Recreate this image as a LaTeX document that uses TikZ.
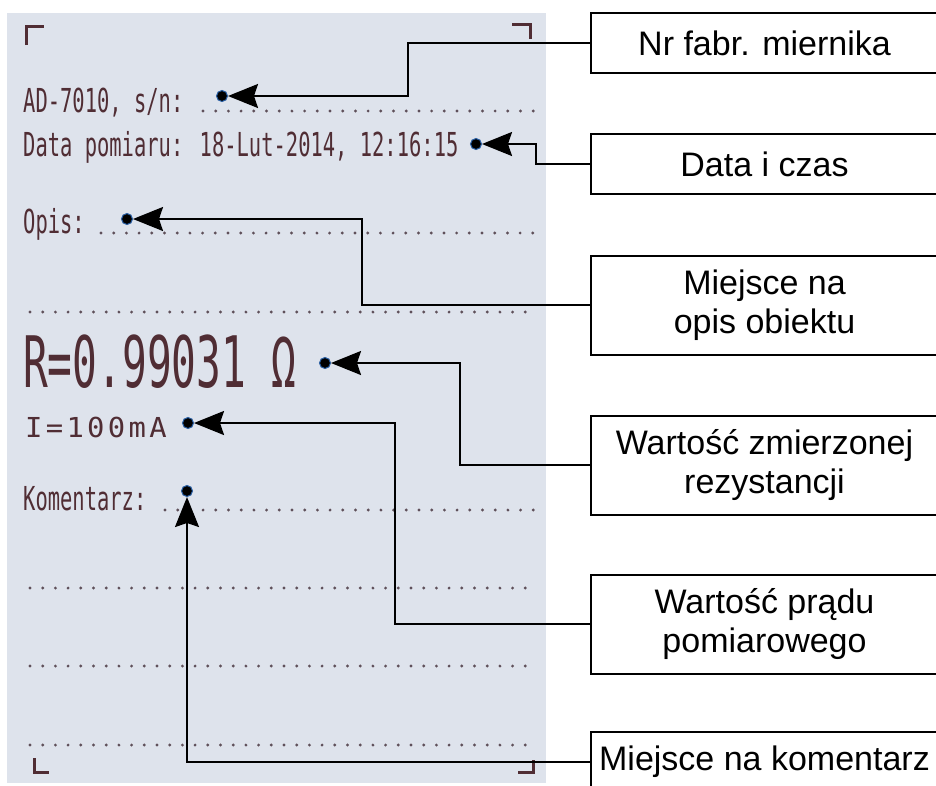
\documentclass[tikz,border=0pt]{standalone}
\usepackage{fontspec}
\setmainfont{Liberation Sans}
\newfontfamily\printfont[FakeStretch=0.62]{DejaVu Sans Mono}
\newfontfamily\bigprintfont[FakeStretch=0.58]{DejaVu Sans Mono}
\newfontfamily\wideprintfont[FakeStretch=1.05, LetterSpace=12]{DejaVu Sans Mono}
\usepackage{xcolor}
\usetikzlibrary{arrows.meta, positioning}
\definecolor{paper}{RGB}{222,227,236}
\definecolor{ink}{RGB}{80,45,52}
\definecolor{dotink}{RGB}{95,80,90}
\definecolor{ringblue}{RGB}{40,95,165}

\begin{document}
\begin{tikzpicture}[x=1pt, y=-1pt,
    box/.style={draw, line width=2pt, minimum width=347pt, minimum height=60pt, anchor=west, align=center, inner sep=3pt, font=\fontsize{34}{39}\selectfont},
    tallbox/.style={box, minimum height=99pt},
    prn/.style={anchor=base west, inner sep=0pt, text=ink, font=\printfont\fontsize{33}{33}\selectfont},
    bullet/.style={circle, fill=black, draw=ringblue, line width=1pt, inner sep=0pt, minimum size=11pt},
    conn/.style={line width=2pt, -{Stealth[length=30pt 0 0, width=24pt 0 0, inset=4pt 0 0]}},
    dots/.style={dotink, line width=3.2pt, line cap=round, dash pattern=on 0pt off 12.7pt},
    corner/.style={ink, line width=3pt}]
  \useasboundingbox[fill=white] (0,0) rectangle (936,785);

  % receipt
  \fill[paper] (7,13) rectangle (546,783);
  \draw[corner] (26,45) -- (26,26) -- (44,26);
  \draw[corner] (512,24) -- (530,24) -- (530,39);
  \draw[corner] (34,758) -- (34,772) -- (49,772);
  \draw[corner] (518,772) -- (533,772) -- (533,760);

  \node[prn] (sn) at (23,112) {AD-7010, s/n:};
  \node[prn] (date) at (23,156) {Data pomiaru: 18-Lut-2014, 12:16:15};
  \node[prn] (opis) at (23,233) {Opis:};
  \node[prn, font=\bigprintfont\fontsize{71}{71}\selectfont] (res) at (23,387) {R=0.99031 Ω};
  \node[prn, font=\wideprintfont\fontsize{27.5}{28}\selectfont] (cur) at (25,437) {I=100mA};
  \node[prn] (kom) at (23,510) {Komentarz:};

  \draw[dots] (203,111) -- (536,111);
  \draw[dots] (101,233) -- (536,233);
  \draw[dots] (165,510) -- (536,510);
  \foreach \y in {312,588,666,745}
    \draw[dots] (30,\y) -- (536,\y);

  % points
  \node[bullet] (d1) at (222,96) {};
  \node[bullet] (d2) at (476,144) {};
  \node[bullet] (d3) at (127,219) {};
  \node[bullet] (d4) at (325,363) {};
  \node[bullet] (d5) at (188,423) {};
  \node[bullet] (d6) at (187,491) {};

  % labels
  \node[box] (nr) at (590,43) {Nr fabr. miernika};
  \node[box] (dt) at (590,164) {Data i czas};
  \node[tallbox] (ob) at (590,305) {Miejsce na\\ opis obiektu};
  \node[tallbox] (rz) at (590,465) {Wartość zmierzonej\\rezystancji};
  \node[tallbox] (pr) at (590,624) {Wartość prądu\\pomiarowego};
  \node[box] (km) at (590,762) {Miejsce na komentarz};

  \draw[conn] (nr.west) -- ++(-182,0) |- (d1);
  \draw[conn] (dt.west) -- ++(-54,0) |- (d2);
  \draw[conn] (ob.west) -- ++(-228,0) |- (d3);
  \draw[conn] (rz.west) -- ++(-130,0) |- (d4);
  \draw[conn] (pr.west) -- ++(-195,0) |- (d5);
  \draw[conn] (km.west) -| (d6);
\end{tikzpicture}
\end{document}
